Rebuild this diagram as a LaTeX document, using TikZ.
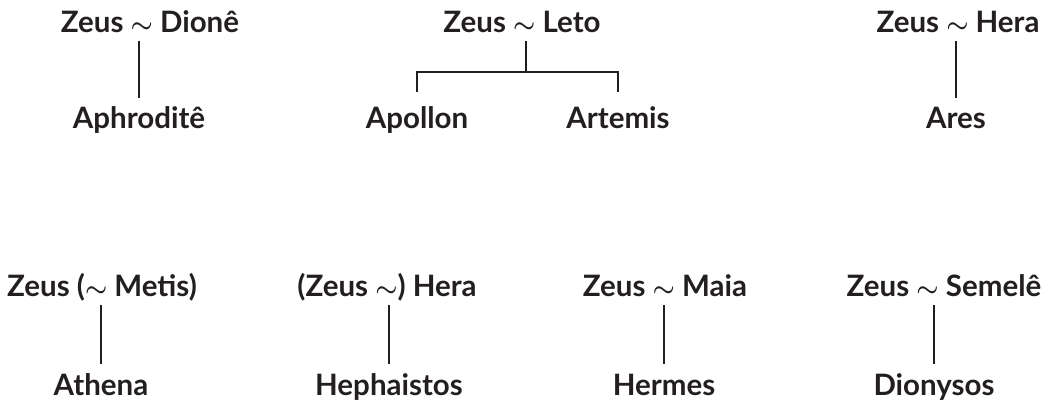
\documentclass[tikz,border=0pt]{standalone}
\usepackage{fontspec}
\setmainfont{Lato}
\definecolor{ink}{HTML}{231F20}
\newcommand{\wed}{{\boldmath$\sim$}}
\tikzset{
    parent/.style={font=\bfseries\fontsize{29.5}{32}\selectfont, text=ink, inner sep=0pt, text depth=0pt, outer ysep=8.5pt, anchor=base},
    kid/.style={font=\bfseries\fontsize{29.5}{32}\selectfont, text=ink, inner sep=0pt, text height=20pt, outer ysep=11pt, anchor=base}
}
\begin{document}
\begin{tikzpicture}[y={-1pt}, x={1pt}, line width=2.5pt, draw=ink]
            \useasboundingbox (0,0) rectangle (1047,403);
            % top row
            \node[parent] (dione) at (150,33) {Zeus \wed{} Dionê};
            \node[parent] (leto) at (522,33) {Zeus \wed{} Leto};
            \node[parent] (hera) at (958,33) {Zeus \wed{} Hera};
            \node[kid] (aph) at (139,129) {Aphroditê};
            \node[kid] (apollon) at (417,129) {Apollon};
            \node[kid] (artemis) at (618,129) {Artemis};
            \node[kid] (ares) at (956,129) {Ares};
            % bottom row
            \node[parent] (metis) at (102,297) {Zeus (\wed{} Metis)};
            \node[parent] (herazeus) at (387,297) {(Zeus \wed) Hera};
            \node[parent] (maia) at (665,297) {Zeus \wed{} Maia};
            \node[parent] (semele) at (944,297) {Zeus \wed{} Semelê};
            \node[kid] (athena) at (101,395) {Athena};
            \node[kid] (heph) at (389,395) {Hephaistos};
            \node[kid] (hermes) at (664,395) {Hermes};
            \node[kid] (dionysos) at (934,395) {Dionysos};
            \foreach \p/\k in {dione/aph, hera/ares, metis/athena, herazeus/heph, maia/hermes, semele/dionysos} {
                \draw (\p.south -| \k.north) -- (\k.north);
            }
            \coordinate (fork) at (526,72);
            \draw (leto.south -| fork) -- (fork);
            \draw ([yshift=6pt]apollon.north) |- (fork) -| ([yshift=6pt]artemis.north);
        \end{tikzpicture}
\end{document}
